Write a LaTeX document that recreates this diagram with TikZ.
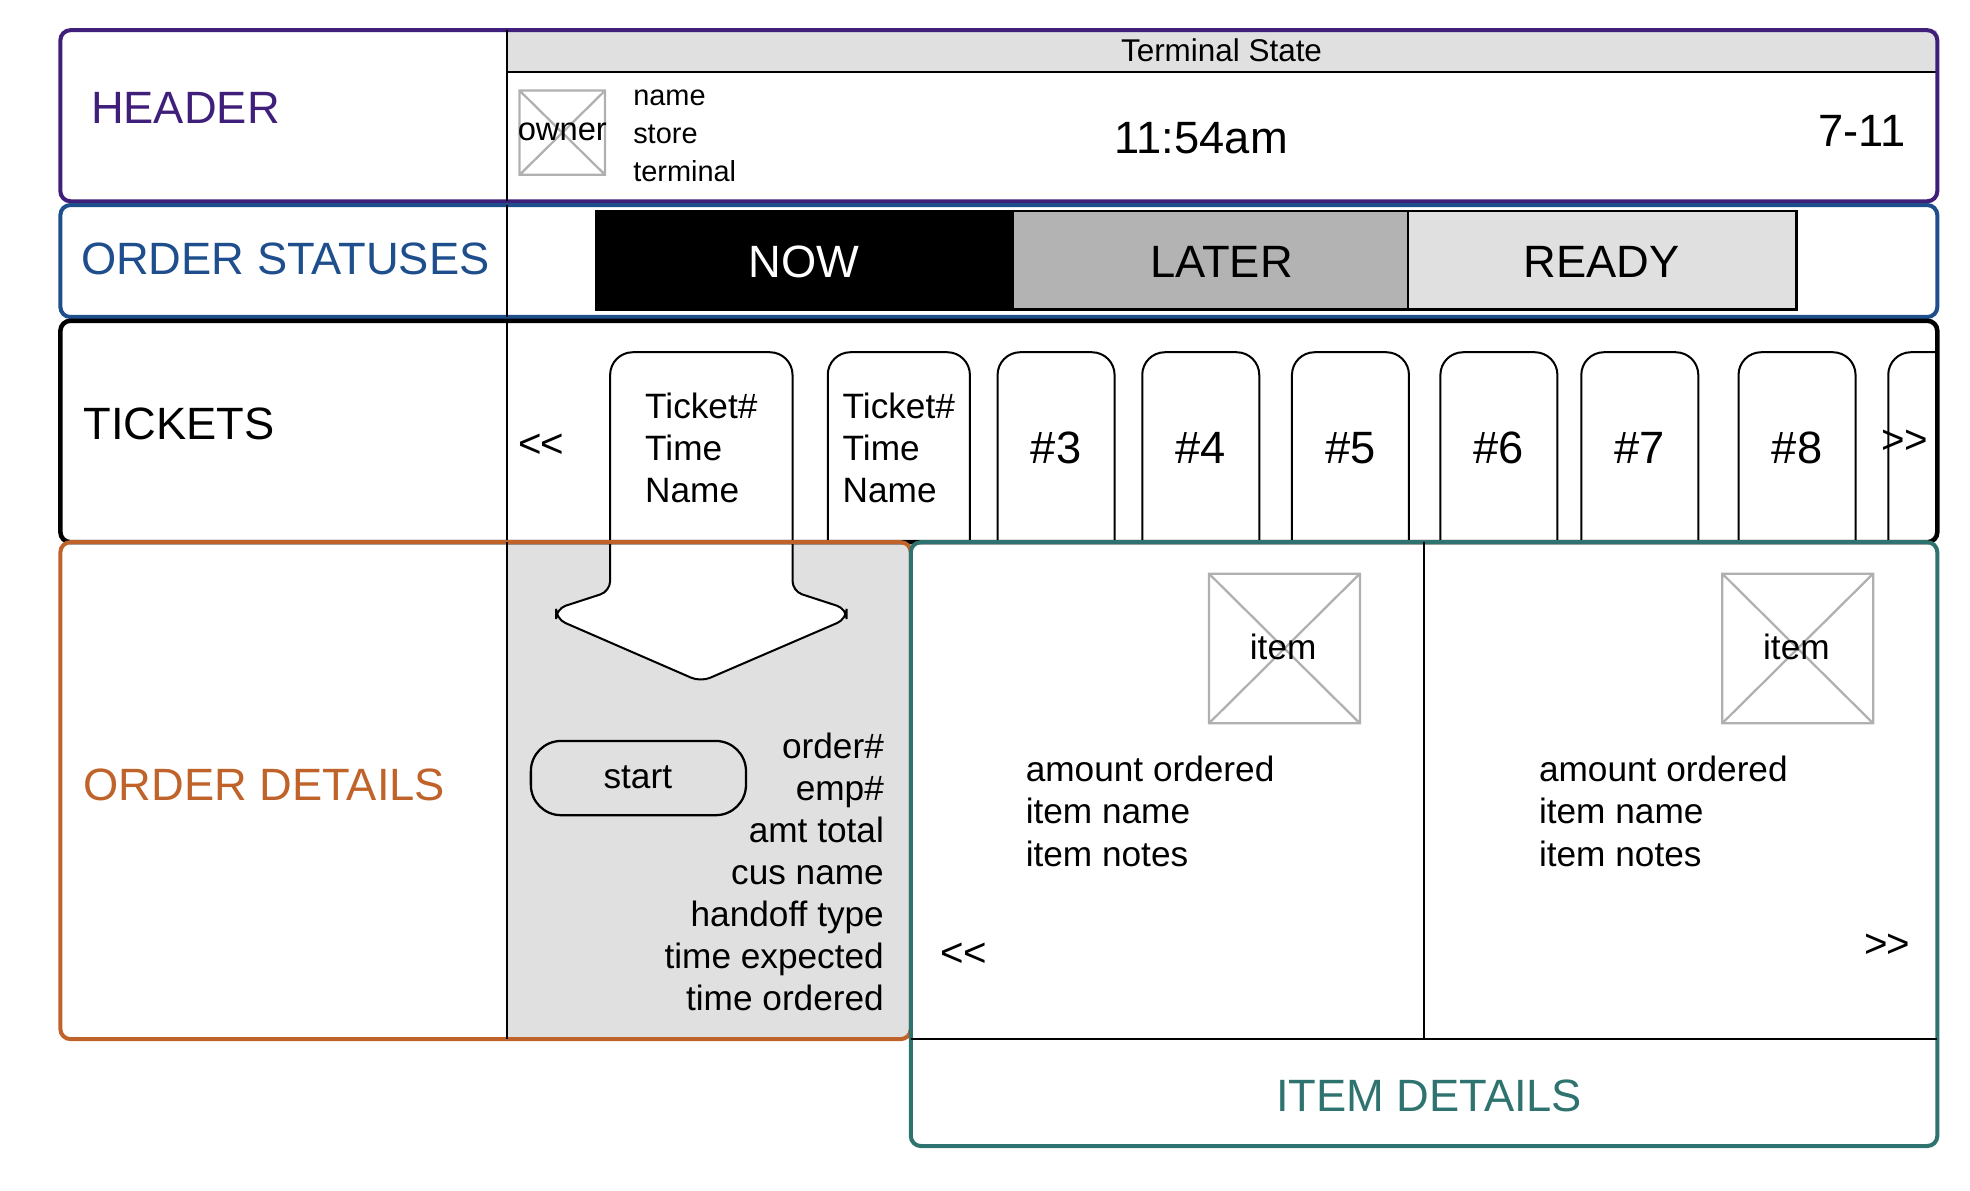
\documentclass[tikz,border=0pt]{standalone}
\usepackage{fontspec}
\setmainfont{Liberation Sans}
\definecolor{purp}{HTML}{3F1F7A}
\definecolor{blu}{HTML}{1F4E8C}
\definecolor{ora}{HTML}{C0632A}
\definecolor{teal2}{HTML}{2E7370}
\definecolor{lg}{HTML}{E0E0E0}
\definecolor{mg}{HTML}{B3B3B3}
\definecolor{img}{HTML}{B0B0B0}
\newcommand{\myll}{{<}\kern-0.5pt{<}}
\newcommand{\myrr}{{>}\kern-0.5pt{>}}
\begin{document}
\begin{tikzpicture}[x=0.5pt,y=-0.5pt,
  sec/.style={line width=1.6pt,rounded corners=4pt},
  big/.style={font=\fontsize{18}{22}\selectfont},
  med/.style={font=\fontsize{14}{16.5}\selectfont},
  tk/.style={draw,line width=0.8pt,rounded corners=9pt},
  ph/.style={draw=img,line width=0.9pt},
  lbl/.style={anchor=west,inner sep=0pt}]
\useasboundingbox (0,0) rectangle (1566,946);
% ORDER DETAILS gray area
\fill[lg] (403,431) rectangle (724,826);
% Tickets
\foreach \n/\a/\b in {t1/485/630,t2/658/771,t3/793/886,t4/908/1001,t5/1027/1120,t6/1145/1238,t7/1257/1350,t8/1382/1475}{
  \draw[tk,fill=white] (\a,431) -- (\a,280) -- (\b,280) -- (\b,431);
  \coordinate (\n) at ({(\a+\b)/2},356);}
\draw[tk] (1501,431) -- (1501,280) -- (1540,280);
% arrow
\fill[white,rounded corners=4pt] (485,425) -- (485,470) -- (442,484) -- (442,492) -- (557,542) -- (673,492) -- (673,484) -- (630,470) -- (630,425) -- cycle;
\draw[line width=0.8pt,rounded corners=4pt] (485,431) -- (485,470) -- (442,484) -- (442,492) -- (557,542) -- (673,492) -- (673,484) -- (630,470) -- (630,431);
% Header
\fill[lg] (403,24) rectangle (1540,57);
\draw[line width=0.9pt] (403,57) -- (1540,57);
\node[font=\fontsize{12.5}{14}\selectfont] (ts) at (971,40) {Terminal State};
\draw[sec,purp] (48,24) rectangle (1540,160);
\draw[line width=0.9pt] (403,24) -- (403,160);
\node[big,lbl,text=purp] (hd) at (72,86) {HEADER};
\draw[ph] (413,72) rectangle (481,139) (413,72)--(481,139) (481,72)--(413,139);
\node[font=\fontsize{13}{16}\selectfont] (ow) at (447,105) {owner};
\node[lbl,font=\fontsize{11.5}{14}\selectfont] (n1) at (503,78) {name};
\node[lbl,font=\fontsize{11.5}{14}\selectfont] (n2) at (503,107) {store};
\node[lbl,font=\fontsize{11.5}{14}\selectfont] (n3) at (503,136) {terminal};
\node[font=\fontsize{18}{22}\selectfont] (tm) at (955,110) {11:54am};
\node[font=\fontsize{18}{22}\selectfont,anchor=east,inner sep=0pt] (st) at (1515,104) {7-11};
% Statuses
\draw[sec,blu] (48,163) rectangle (1540,252);
\draw[line width=0.9pt] (403,163) -- (403,252);
\node[big,lbl,text=blu] (os) at (64,206) {ORDER STATUSES};
\draw[line width=0.9pt,fill=black] (474,168) rectangle (805,246);
\draw[line width=0.9pt,fill=mg] (805,168) rectangle (1119,246);
\draw[line width=0.9pt,fill=lg] (1119,168) rectangle (1428,246);
\node[big,text=white] (now) at (639,208) {NOW};
\node[big] (lat) at (971,208) {LATER};
\node[big] (rdy) at (1273,208) {READY};
% Tickets section
\draw[line width=1.8pt,rounded corners=4pt] (48,255) rectangle (1540,431);
\draw[line width=0.9pt] (403,255) -- (403,431);
\node[big,lbl] (tkl) at (66,337) {TICKETS};
\node[font=\fontsize{16}{18}\selectfont] (pl) at (430,354) {\myll};
\node[font=\fontsize{16}{18}\selectfont] (nx) at (1514,351) {\myrr};
\node[font=\fontsize{14}{16.7}\selectfont,align=left] at (t1) {Ticket\#\\Time\\Name};
\node[font=\fontsize{14}{16.7}\selectfont,align=left] at (t2) {Ticket\#\\Time\\Name};
\foreach \n/\t in {t3/3,t4/4,t5/5,t6/6,t7/7,t8/8}
  \node[font=\fontsize{18}{22}\selectfont] at (\n) {\#\t};
% Order details
\draw[sec,ora] (48,431) rectangle (724,826);
\draw[line width=0.9pt] (403,431) -- (403,826);
\node[big,lbl,text=ora] (odl) at (66,624) {ORDER DETAILS};
\draw[line width=0.9pt,rounded corners=12pt,fill=lg] (422,589) rectangle (593,648);
\node[med] (sb) at (507,618) {start};
\node[anchor=east,align=right,inner sep=0pt,font=\fontsize{14}{16.7}\selectfont] (ol) at (703,693) {order\#\\emp\#\\amt total\\cus name\\handoff type\\time expected\\time ordered};
% Item details
\draw[sec,teal2] (724,431) rectangle (1540,911);
\draw[line width=0.9pt] (724,826) -- (1540,826) (1132,431) -- (1132,826);
\node[big,text=teal2] (idl) at (1136,871) {ITEM DETAILS};
\foreach \x/\n in {961/i1,1369/i2}{
  \draw[ph] (\x,456) rectangle (\x+120,575) (\x,456)--(\x+120,575) (\x+120,456)--(\x,575);
  \node[med] (\n) at (\x+59,514) {item};}
\node[lbl,align=left,font=\fontsize{14}{16.7}\selectfont] (a1) at (815,645) {amount ordered\\item name\\item notes};
\node[lbl,align=left,font=\fontsize{14}{16.7}\selectfont] (a2) at (1223,645) {amount ordered\\item name\\item notes};
\node[font=\fontsize{16}{18}\selectfont] (ip) at (766,759) {\myll};
\node[font=\fontsize{16}{18}\selectfont] (in) at (1500,752) {\myrr};
\end{tikzpicture}
\end{document}
